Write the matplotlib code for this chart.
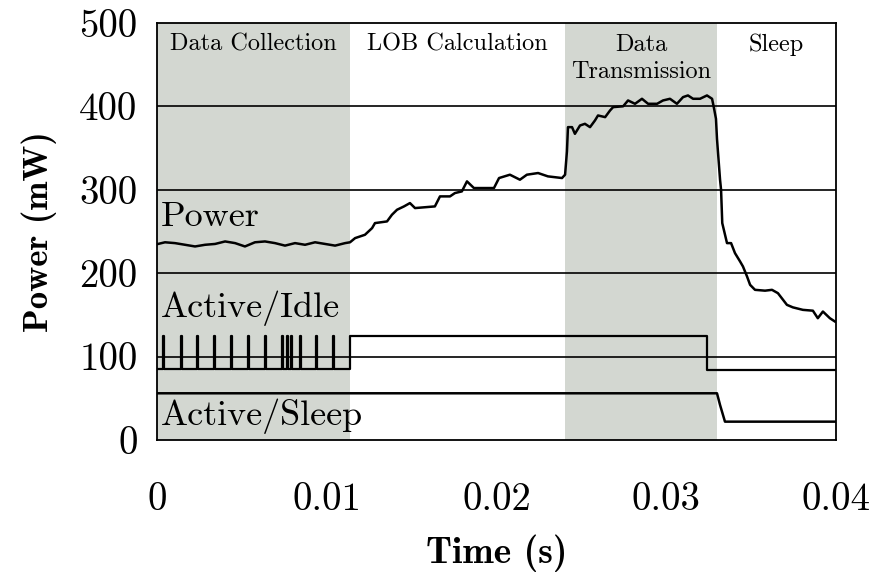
import matplotlib.pyplot as plt

plt.rcParams['font.family'] = 'cmr10'
plt.rcParams['axes.unicode_minus'] = False

# phases of the measurement (start, end, label, shaded?)
phases = [(0.0, 0.01137, "Data Collection", True),
          (0.01137, 0.02404, "LOB Calculation", False),
          (0.02404, 0.03299, "Data\nTransmission", True),
          (0.03299, 0.04, "Sleep", False)]

# total power draw (mW)
power_t = [0.00006, 0.00047, 0.00106, 0.00165, 0.00224, 0.00283, 0.00342, 0.00401,
           0.0046, 0.00518, 0.00577, 0.00636, 0.00695, 0.00754, 0.00813, 0.00872,
           0.00931, 0.0099, 0.01049, 0.01108, 0.01137, 0.01167, 0.01225, 0.01267,
           0.01284, 0.01355, 0.01384, 0.01414, 0.01455, 0.0149, 0.01520, 0.01637,
           0.01667, 0.01726, 0.01755, 0.01796, 0.01826, 0.01867, 0.01944, 0.01985,
           0.02015, 0.02079, 0.02138, 0.02179, 0.02245, 0.02303, 0.02386, 0.02404,
           0.02415, 0.02421, 0.02445, 0.02462, 0.02492, 0.02521, 0.02551, 0.0258,
           0.02598, 0.0264, 0.02669, 0.02687, 0.02746, 0.02775, 0.02816, 0.02857,
           0.02893, 0.02946, 0.02981, 0.03022, 0.03063, 0.03099, 0.03128, 0.03158,
           0.03199, 0.0324, 0.03270, 0.03282, 0.03293, 0.03299, 0.03317, 0.03323,
           0.0333, 0.03358, 0.03382, 0.03405, 0.03435, 0.03452, 0.03476, 0.03494,
           0.03523, 0.03582, 0.03623, 0.03658, 0.03711, 0.03746, 0.03805, 0.03864,
           0.03893, 0.03923, 0.03964, 0.03994]
power_mw = [235, 237, 236, 234, 232, 234, 235, 238,
            236, 232, 237, 238, 236, 233, 236, 234,
            237, 235, 233, 236, 237, 242, 246, 254,
            260, 262, 270, 276, 280, 284, 278, 280,
            292, 292, 296, 298, 310, 302, 302, 302,
            314, 318, 312, 318, 320, 316, 314, 318,
            346, 375, 375, 367, 377, 379, 375, 383,
            389, 387, 395, 399, 400, 407, 403, 409,
            403, 403, 407, 409, 403, 411, 413, 409,
            409, 413, 409, 397, 385, 361, 312, 300,
            260, 236, 236, 224, 214, 208, 196, 186,
            180, 179, 180, 176, 162, 159, 156, 155,
            146, 154, 146, 142]

# Active/Idle trace: pulses during data collection, then a flat high level
idle_low = 85
idle_high = 125
idle_pulse_t = [0.00035, 0.00141, 0.00236, 0.00336, 0.00436, 0.00536, 0.00636,
                0.00736, 0.00766, 0.00789, 0.00842, 0.00937, 0.01037]
idle_pulse_w = 0.00008
idle_t_rest = [0.01137, 0.0324, 0.0324, 0.04]
idle_mw_rest = [idle_high, idle_high, 84, 84]

# Active/Sleep trace
sleep_t = [0.0, 0.03299, 0.03317, 0.03346, 0.04]
sleep_mw = [56, 56, 42, 22, 22]

idle_t = [0.0]
idle_mw = [idle_low]
for t in idle_pulse_t:
    idle_t += [t, t, t + idle_pulse_w, t + idle_pulse_w]
    idle_mw += [idle_low, idle_high, idle_high, idle_low]
idle_t += [idle_t_rest[0], idle_t_rest[0]] + idle_t_rest
idle_mw += [idle_low, idle_high] + idle_mw_rest

fig = plt.figure(figsize=(8.69, 5.73), dpi=100)
ax = fig.add_axes([0.1807, 0.2321, 0.7813, 0.728])

for start, end, label, shaded in phases:
    if shaded:
        ax.axvspan(start, end, color="#d3d7d1", lw=0, zorder=0)
    ax.text((start + end) / 2, 487, label, ha="center", va="top",
            fontsize=17.5, linespacing=1.3)

for y in [100, 200, 300, 400]:
    ax.axhline(y, color="black", lw=1.2, zorder=1)

ax.plot(power_t, power_mw, color="black", lw=1.8, zorder=3)
ax.plot(idle_t, idle_mw, color="black", lw=1.6, zorder=3)
ax.plot(sleep_t, sleep_mw, color="black", lw=1.8, zorder=3)

ax.text(0.0002, 267, "Power", fontsize=26, va="center")
ax.text(0.0002, 158, "Active/Idle", fontsize=26, va="center")
ax.text(0.0002, 28, "Active/Sleep", fontsize=26, va="center")

ax.set_xlim(0, 0.04)
ax.set_ylim(0, 500)
ax.set_xticks([0, 0.01, 0.02, 0.03, 0.04])
ax.set_xticklabels(["0", "0.01", "0.02", "0.03", "0.04"])
ax.set_yticks([0, 100, 200, 300, 400, 500])
ax.set_yticklabels(["0", "100", "200", "300", "400", "500"])
ax.tick_params(length=0, labelsize=28)
ax.tick_params(axis="x", pad=30)
ax.tick_params(axis="y", pad=14)
for s in ax.spines.values():
    s.set_linewidth(1.3)

ax.set_xlabel("Time (s)", fontsize=27, fontfamily="cmb10", labelpad=12)
ax.set_ylabel("Power (mW)", fontsize=25, fontfamily="cmb10", labelpad=16)

fig.savefig("out.png", dpi=100)
